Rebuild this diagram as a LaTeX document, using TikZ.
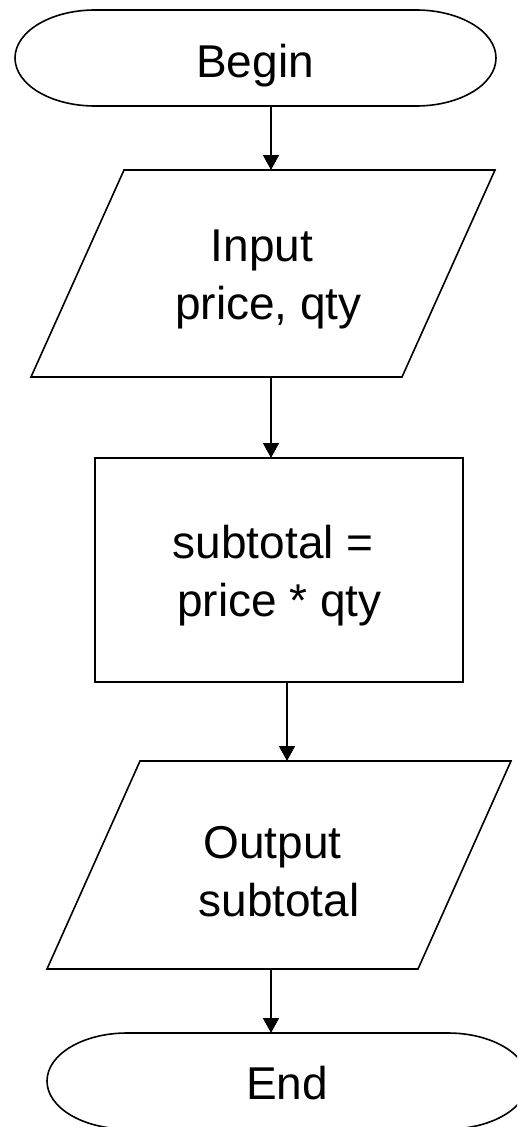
\documentclass[tikz,border=0pt]{standalone}
\usepackage{fontspec}
\setmainfont{Liberation Sans}
\usetikzlibrary{arrows.meta}
\begin{document}
\begin{tikzpicture}[x=1pt,y=1pt,
  outline/.style={line width=1.6pt, line join=miter},
  hold/.style={inner sep=0pt, outer sep=0pt},
  txt/.style={inner sep=0pt, align=center, font=\fontsize{46}{58}\selectfont},
  flow/.style={line width=1.6pt, -{Triangle[width=16pt,length=15pt]}}]
\useasboundingbox (0,0) rectangle (517,-1127);
\fill[white] (0,0) rectangle (517,-1127);
\clip (0,0) rectangle (517,-1127);

% Begin terminator
\node[hold, minimum width=481pt, minimum height=96pt] (begin) at (255.5,-58) {};
\draw[outline] ([xshift=80pt]begin.north west) -- ([xshift=-80pt]begin.north east)
  arc[start angle=90, end angle=-90, x radius=80pt, y radius=48pt]
  -- ([xshift=80pt]begin.south west)
  arc[start angle=270, end angle=90, x radius=80pt, y radius=48pt] -- cycle;
\node[txt] (begintxt) at (255,-65.4) {Begin};

% Input parallelogram
\node[hold, minimum width=464pt, minimum height=207pt] (in) at (263,-273.5) {};
\draw[outline] ([xshift=93pt]in.north west) -- (in.north east)
  -- ([xshift=-93pt]in.south east) -- (in.south west) -- cycle;
\node[txt] (intxt) at (268.5,-279.4) {Input\hspace*{0.278em}\\price, qty};

% Process rectangle
\node[hold, draw, line width=1.6pt, minimum width=368pt, minimum height=224pt] (calc) at (279,-570) {};
\node[txt] (calctxt) at (279.5,-575.6) {subtotal =\hspace*{0.278em}\\price * qty};

% Output parallelogram
\node[hold, minimum width=464pt, minimum height=208pt] (out) at (279,-865) {};
\draw[outline] ([xshift=93pt]out.north west) -- (out.north east)
  -- ([xshift=-93pt]out.south east) -- (out.south west) -- cycle;
\node[txt] (outtxt) at (279,-872) {Output\hspace*{0.278em}\\subtotal};

% End terminator
\node[hold, minimum width=481pt, minimum height=96pt] (end) at (287.5,-1081) {};
\draw[outline] ([xshift=80pt]end.north west) -- ([xshift=-80pt]end.north east)
  arc[start angle=90, end angle=-90, x radius=80pt, y radius=48pt]
  -- ([xshift=80pt]end.south west)
  arc[start angle=270, end angle=90, x radius=80pt, y radius=48pt] -- cycle;
\node[txt] (endtxt) at (287,-1083) {End};

% Connectors
\draw[flow] ([xshift=15.5pt]begin.south) -- ([xshift=8pt]in.north);
\draw[flow] ([xshift=8pt]in.south) -- ([xshift=-8pt]calc.north);
\draw[flow] ([xshift=8pt]calc.south) -- ([xshift=8pt]out.north);
\draw[flow] ([xshift=-8pt]out.south) -- ([xshift=-16.5pt]end.north);
\end{tikzpicture}
\end{document}
